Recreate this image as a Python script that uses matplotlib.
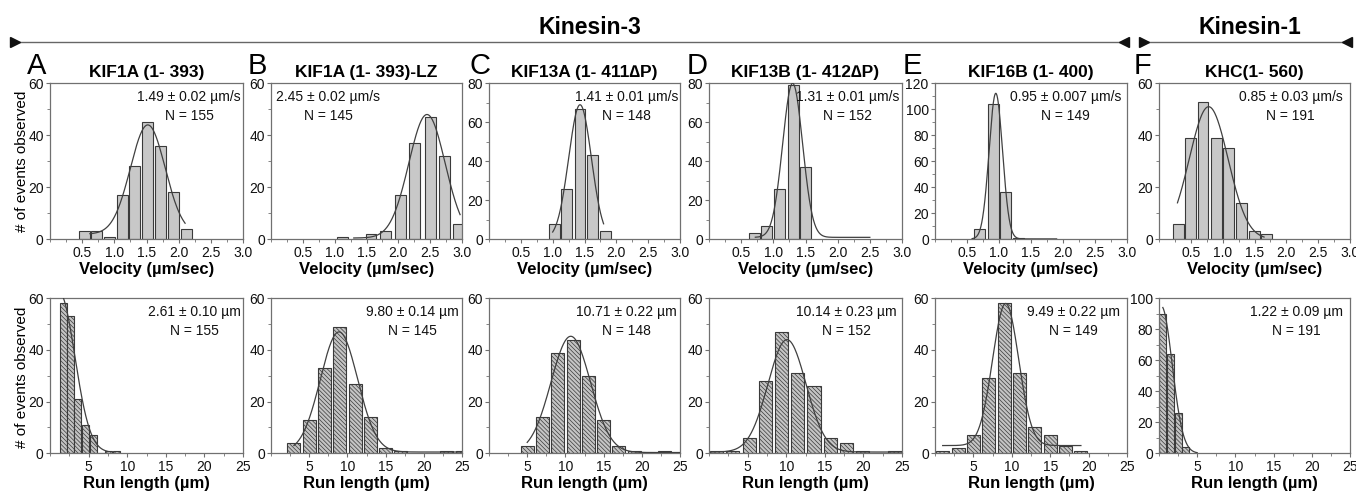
import numpy as np
import matplotlib
matplotlib.use('Agg')
import matplotlib.pyplot as plt
from matplotlib.ticker import MultipleLocator, AutoMinorLocator
from matplotlib.lines import Line2D
from matplotlib import font_manager

# ---- data ----
titles = ['KIF1A (1- 393)', 'KIF1A (1- 393)-LZ', 'KIF13A (1- 411\u2206P)',
          'KIF13B (1- 412\u2206P)', 'KIF16B (1- 400)', 'KHC(1- 560)']
panel_letters = ['A', 'B', 'C', 'D', 'E', 'F']

vel_centers = [
    [0.53, 0.72, 0.92, 1.12, 1.32, 1.52, 1.72, 1.92, 2.12],
    [1.12, 1.35, 1.57, 1.80, 2.03, 2.26, 2.50, 2.72, 2.95],
    [1.03, 1.22, 1.43, 1.62, 1.83],
    [0.70, 0.90, 1.10, 1.31, 1.50],
    [0.70, 0.91, 1.10, 1.30],
    [0.30, 0.49, 0.69, 0.90, 1.09, 1.29, 1.50, 1.69],
]
vel_counts = [
    [3, 3, 1, 17, 28, 45, 36, 18, 4],
    [1, 0, 2, 3, 17, 37, 47, 32, 6],
    [8, 26, 67, 43, 4],
    [3, 7, 26, 79, 37],
    [8, 104, 36, 1],
    [6, 39, 53, 39, 35, 14, 3, 2],
]
vel_ymax = [60, 60, 80, 80, 120, 60]
vel_stats = ['1.49 \u00b1 0.02 \u00b5m/s\nN = 155', '2.45 \u00b1 0.02 \u00b5m/s\nN = 145',
             '1.41 \u00b1 0.01 \u00b5m/s\nN = 148', '1.31 \u00b1 0.01 \u00b5m/s\nN = 152',
             '0.95 \u00b1 0.007 \u00b5m/s\nN = 149', '0.85 \u00b1 0.03 \u00b5m/s\nN = 191']

run_centers = [
    [1.7, 2.65, 3.6, 4.65, 5.6, 6.6, 7.6, 8.6],
    [3, 5, 7, 9, 11, 13, 15, 17, 19, 21, 23, 25],
    [5, 7, 9, 11, 13, 15, 17, 19, 21, 23],
    [1.0, 3.0, 5.2, 7.3, 9.4, 11.5, 13.6, 15.7, 17.8, 19.9, 22.0, 24.1],
    [1, 3, 5, 7, 9, 11, 13, 15, 17, 19],
    [0.5, 1.5, 2.5, 3.5],
]
run_counts = [
    [58, 53, 21, 11, 7, 0, 1, 1],
    [4, 13, 33, 49, 27, 14, 2, 1, 0, 0, 1, 1],
    [3, 14, 39, 44, 30, 13, 3, 1, 0, 1],
    [1, 1, 6, 28, 47, 31, 26, 6, 4, 1, 0, 1],
    [1, 2, 7, 29, 58, 31, 10, 7, 3, 1],
    [90, 64, 26, 4],
]
run_ymax = [60, 60, 60, 60, 60, 100]
run_stats = ['2.61 \u00b1 0.10 \u00b5m\nN = 155', '9.80 \u00b1 0.14 \u00b5m\nN = 145',
             '10.71 \u00b1 0.22 \u00b5m\nN = 148', '10.14 \u00b1 0.23 \u00b5m\nN = 152',
             '9.49 \u00b1 0.22 \u00b5m\nN = 149', '1.22 \u00b1 0.09 \u00b5m\nN = 191']

# gaussian fit parameters (amplitude, centre, sigma, baseline, x range)
vel_fit_amp = [42, 47.5, 69, 79, 112, 51]
vel_fit_mu = [1.52, 2.45, 1.43, 1.30, 0.95, 0.78]
vel_fit_sig = [0.27, 0.285, 0.178, 0.155, 0.105, 0.305]
vel_fit_base = [2, 0.5, 0, 1, 0.3, 0]
vel_fit_lo = [0.62, 1.3, 1.0, 0.72, 0.58, 0.29]
vel_fit_hi = [2.1, 2.97, 1.8, 2.5, 1.9, 1.65]

run_fit_amp = [62, 46.5, 45, 43.5, 55, 95]
run_fit_mu = [1.2, 8.9, 10.7, 10.1, 9.2, 0.3]
run_fit_sig = [2.0, 2.44, 2.58, 2.46, 1.7, 1.42]
run_fit_base = [0.3, 0.5, 0.3, 0.5, 3, 0]
run_fit_lo = [1.6, 3.0, 5.0, 0.3, 1.0, 0.5]
run_fit_hi = [7.5, 25, 25, 25, 19, 5.0]

# ---- style / layout ----
names = {f.name for f in font_manager.fontManager.ttflist}
narrow = 'Liberation Sans Narrow' if 'Liberation Sans Narrow' in names else 'Liberation Sans'
plt.rcParams['font.family'] = ['Liberation Sans', 'DejaVu Sans']
plt.rcParams['hatch.linewidth'] = 0.5
bold_fam = [narrow, 'Liberation Sans', 'DejaVu Sans']

W, H = 1356, 496
left_px = [50, 271, 489, 709, 935, 1159]
right_px = [243, 462, 680, 902, 1127, 1350]
vel_txt_x = [0.72, 0.30, 0.72, 0.72, 0.68, 0.69]
run_txt_x = [0.75, 0.74, 0.72, 0.71, 0.72, 0.72]
letter_x = [37, 257, 480, 697, 912, 1143]

spine_c = '#707070'
edge_c = '#3a3a3a'
line_c = '#404040'

fig = plt.figure(figsize=(W / 100, H / 100), dpi=100)


def style_axis(ax, xmax, xmajor, ymax, ystep):
    ax.set_xlim(0, xmax)
    ax.set_ylim(0, ymax)
    ax.set_xticks(np.arange(xmajor, xmax + 1e-9, xmajor))
    ax.xaxis.set_minor_locator(MultipleLocator(xmajor / 2))
    ax.yaxis.set_major_locator(MultipleLocator(ystep))
    ax.yaxis.set_minor_locator(AutoMinorLocator(2))
    for s in ax.spines.values():
        s.set_color(spine_c)
        s.set_linewidth(0.9)
    ax.tick_params(which='major', length=3, width=0.8, color=spine_c, pad=1.5,
                   labelsize=10, labelcolor='#111111')
    ax.tick_params(which='minor', length=2, width=0.6, color=spine_c)
    ax.tick_params(top=False, right=False, which='both')


def gauss(x, a, mu, s, b):
    return b + a * np.exp(-(x - mu) ** 2 / (2 * s ** 2))


for i in range(6):
    x0 = left_px[i] / W
    w = (right_px[i] - left_px[i]) / W

    # velocity histogram
    ax = fig.add_axes([x0, 1 - 239.3 / H, w, 156 / H])
    ax.bar(vel_centers[i], vel_counts[i], width=0.17, color='#c8c8c8',
           edgecolor=edge_c, linewidth=0.8, zorder=2)
    xs = np.linspace(vel_fit_lo[i], vel_fit_hi[i], 300)
    ax.plot(xs, gauss(xs, vel_fit_amp[i], vel_fit_mu[i], vel_fit_sig[i], vel_fit_base[i]),
            color=line_c, lw=0.9, zorder=3)
    style_axis(ax, 3.0, 0.5, vel_ymax[i], 20)
    ax.xaxis.set_major_formatter(plt.FormatStrFormatter('%.1f'))
    ax.set_xlabel('Velocity (\u00b5m/sec)', family=bold_fam, fontweight='bold',
                  fontsize=12, labelpad=2)
    ax.text(vel_txt_x[i], 0.955, vel_stats[i], transform=ax.transAxes, ha='center',
            va='top', fontsize=10, linespacing=1.45, color='#111111', zorder=4)

    # run length histogram
    ax2 = fig.add_axes([x0, 1 - 453.3 / H, w, 155 / H])
    bw = 0.9 if i in (0, 5) else 1.7
    ax2.bar(run_centers[i], run_counts[i], width=bw, color='#c4c4c4',
            edgecolor=edge_c, linewidth=0.8, hatch='\\' * 8, zorder=2)
    xs = np.linspace(run_fit_lo[i], run_fit_hi[i], 300)
    ax2.plot(xs, gauss(xs, run_fit_amp[i], run_fit_mu[i], run_fit_sig[i], run_fit_base[i]),
             color=line_c, lw=0.9, zorder=3)
    style_axis(ax2, 25, 5, run_ymax[i], 20)
    ax2.set_xlabel('Run length (\u00b5m)', family=bold_fam, fontweight='bold',
                   fontsize=12, labelpad=2)
    ax2.text(run_txt_x[i], 0.955, run_stats[i], transform=ax2.transAxes, ha='center',
             va='top', fontsize=10, linespacing=1.45, color='#111111', zorder=4)

    # panel letter and title
    fig.text(letter_x[i] / W, 1 - 73.5 / H, panel_letters[i], ha='center', va='baseline',
             fontsize=21)
    fig.text((left_px[i] + right_px[i]) / 2 / W, 1 - 77 / H, titles[i], ha='center',
             va='baseline', family=bold_fam, fontweight='bold', fontsize=12.5)

# y labels
fig.text(22 / W, 1 - 161 / H, '# of events observed', rotation=90, ha='center',
         va='center', fontsize=11)
fig.text(22 / W, 1 - 377 / H, '# of events observed', rotation=90, ha='center',
         va='center', fontsize=11)

# family brackets
yl = 1 - 42 / H
for xa, xb in [(11, 1128), (1140, 1351)]:
    fig.add_artist(Line2D([xa / W, xb / W], [yl, yl], transform=fig.transFigure,
                          color='#666666', lw=1.0))
    fig.add_artist(Line2D([(xa + 4) / W], [yl], transform=fig.transFigure, marker='>',
                          markersize=6.5, color='#111111', lw=0))
    fig.add_artist(Line2D([(xb - 4) / W], [yl], transform=fig.transFigure, marker='<',
                          markersize=6.5, color='#111111', lw=0))
fig.text(590 / W, 1 - 34 / H, 'Kinesin-3', ha='center', va='baseline',
         family=bold_fam, fontweight='bold', fontsize=16.5)
fig.text(1250 / W, 1 - 34 / H, 'Kinesin-1', ha='center', va='baseline',
         family=bold_fam, fontweight='bold', fontsize=16.5)

fig.savefig('out.png', dpi=100, facecolor='white')
